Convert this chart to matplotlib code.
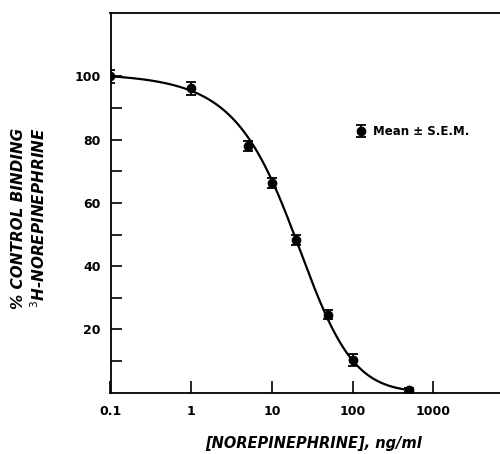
import numpy as np
import matplotlib
matplotlib.use('Agg')
import matplotlib.pyplot as plt
from matplotlib.ticker import FixedLocator, NullLocator, FixedFormatter

# values
conc = [0.1, 1, 5, 10, 20, 50, 100, 500]          # ng/ml
binding = [100.0, 96.2, 78.0, 66.2, 48.3, 24.7, 10.4, 0.8]  # % control
sem = [2.0, 2.0, 1.6, 1.6, 1.6, 1.5, 1.8, 0.6]

x_ticks = [0.1, 1, 10, 100, 1000]
x_tick_labels = ['0.1', '1', '10', '100', '1000']
y_ticks = [20, 40, 60, 80, 100]
y_minor = [10, 30, 50, 70, 90]

TOP = 101.0  # plateau used to linearise the curve for fitting


fig = plt.figure(figsize=(5, 4.54), dpi=100)
ax = fig.add_axes([0.221, 0.135, 0.779, 0.836])

# smooth sigmoid through the points: cubic fit in logit space vs log concentration
lx = np.log10(conc)
b = np.asarray(binding)
logit = np.log(b / (TOP - b))
coef = np.polyfit(lx, logit, 3)
xs = np.linspace(lx[0], lx[-1], 400)
ys = TOP / (1 + np.exp(-np.polyval(coef, xs)))
ax.plot(10**xs, ys, color='black', lw=1.6, zorder=2)

eb = ax.errorbar(conc, binding, yerr=sem, fmt='o', color='black', ms=6,
                 capsize=3.5, elinewidth=1.3, capthick=1.3, zorder=3,
                 label='Mean \u00b1 S.E.M.')

ax.set_xscale('log')
ax.set_xlim(0.1, 6700)
ax.set_ylim(0, 120)

ax.xaxis.set_major_locator(FixedLocator(x_ticks))
ax.xaxis.set_major_formatter(FixedFormatter(x_tick_labels))
ax.xaxis.set_minor_locator(NullLocator())
ax.yaxis.set_major_locator(FixedLocator(y_ticks))
ax.yaxis.set_minor_locator(FixedLocator(y_minor))

ax.tick_params(axis='both', which='both', direction='in', width=1.2,
               labelsize=9, colors='black')
ax.tick_params(axis='x', which='major', length=9, pad=9)
ax.tick_params(axis='y', which='major', length=8, pad=7)
ax.tick_params(axis='y', which='minor', length=8)
for lab in ax.get_xticklabels() + ax.get_yticklabels():
    lab.set_fontweight('bold')

ax.spines['right'].set_visible(False)
for s in ['left', 'bottom', 'top']:
    ax.spines[s].set_linewidth(1.3)

ax.set_xlabel('[NOREPINEPHRINE], ng/ml', fontsize=10.5, fontweight='bold',
              fontstyle='italic')
ax.xaxis.set_label_coords(0.52, -0.115)
ax.set_ylabel('% CONTROL BINDING\n$^{3}$H-NOREPINEPHRINE', fontsize=11,
              fontweight='bold', fontstyle='italic', linespacing=1.25)
ax.yaxis.set_label_coords(-0.16, 0.46)

ax.legend(handles=[eb], loc='center left', bbox_to_anchor=(0.605, 0.688),
          frameon=False, handlelength=0.8, handletextpad=0.6,
          prop={'size': 8.5, 'weight': 'bold'})

fig.savefig('out.png', dpi=100)
